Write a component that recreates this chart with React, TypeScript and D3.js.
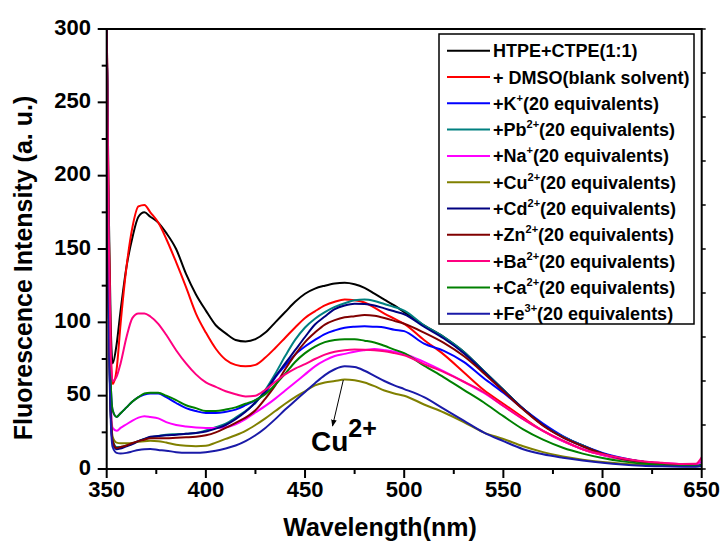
import React from 'react';
import * as d3 from 'd3';

const wavelengths = [350,351,352,353,355,357,360,363,366,369,372,376,380,385,390,395,400,405,410,415,420,425,430,435,440,445,450,455,460,465,470,475,480,485,490,495,500,510,520,530,540,550,560,570,580,590,600,610,620,630,640,647,650];

const htpeCtpe = [305,180,100,72,85,108, 138,158,172,175,172,168, 161,150,133,119,108, 98,92.5,88,87,88.5, 93,100,107,114,119.5, 123,125,126.5,127,126, 123.5,119.5,115.5,111.5,107, 98,90,80,67,54, 41,30,22,16,10.5, 7,5,3.7,2.8,2.3,2.5];
const dmso = [305,170,85,58,68,99, 138,165,179,180,175,168, 157,141,124,106,93, 82,74.5,71,70,71, 76,82.5,89.5,96.5,103, 107.5,111.5,114,115.5,115, 113.5,110,106,102.5,99, 88,78,66,54,44.5, 35,26,19,13.5,9.5, 6.5,4.5,3.3,2.6,2.3,3];
const kIon = [305,140,60,40,35.5,38, 42,46,49,50.7,51.5,51.5, 49,45,41.5,39.5,38.2, 38.2,39,40.5,43.5,47, 52,62.5,70.5,78,83.5, 88,92,94.5,96.3,97, 97.3,97,96.5,95,94, 85.5,80.5,73,62,52, 41,31,22.5,16,11, 7.5,5,3.5,2.6,2.3,2.5];
const pbIon = [305,120,40,20,15,15, 16,17.5,19,20.5,21.7,22.5, 23.4,23.7,24,24.5,26.3, 28.5,31,35,39.5,45, 54,65,77,88,96.5, 102.5,107,110.5,113,115, 115.5,114.5,112.5,110.5,108, 98,90,80,67,54, 41,30,22,16,10.5, 7,5,3.7,2.8,2.3,2.5];
const naIon = [305,130,50,28,26,28, 30.5,33,35,36,35.5,34.5, 32,30,29,28.3,28, 28,28.5,30.5,34,38.5, 43,48,53.5,59,64.5, 70,74,77,78.5,80, 81,81.8,81,80,78.5, 73,66.5,59.5,52,43, 34,26,19,13.5,9.5, 6.8,5,4,3.2,3,5];
const cuIon = [305,120,45,22,18,17.5, 17.5,17.7,18.5,19,19.2,19, 18,16.5,15.8,15.5,15.8, 18,20.5,23,26,30, 34.5,39.5,44.5,49,53, 57,59,60,61,60.5, 59,56.5,53.5,51.5,50, 44,38.5,32,25,20.5, 15.5,11.5,8.5,6.3,4.7, 3.6,2.9,2.4,2,1.8,2];
const cdIon = [305,120,40,18,13.5,14, 15.5,17,19,20.5,22,22.5, 23,23.4,24,24.5,25.5, 27.5,30,34,39,45.5, 53,63,72,81,90, 98.5,104,109,111.5,112.7, 112.5,111.5,109.5,107.5,105.5, 97,89,79,66.5,53.5, 41,30,21.5,15.5,10.5, 7,5,3.6,2.7,2.2,2];
const znIon = [305,120,40,19,14.3,15, 16,17.7,19,20,21,21, 21,21.3,21.6,22,23, 25,28,31.5,35,40, 48,57,68,78,86.5, 93,98.5,101.5,103.4,104.2, 105,104.5,103,101,99, 93,86,77,65.5,53, 40.5,29.5,21.5,15.5,10.5, 7,5,3.6,2.7,2.2,2];
const baIon = [305,160,80,60,63,72, 90,103,106,106,104,99, 91.5,81,72,64.5,59, 56,53,51,49.5,50, 54,59.5,64.5,68.5,71.5, 75,78,80,81,81.4, 81.3,81,80.3,79,77.5, 71.5,66,59.5,52.5,43, 34,26,19.5,13.5,10, 7.3,5.3,4.2,3.4,3.5,8];
const caIon = [305,140,60,40,35.5,38, 42,46,49,51.5,52,52, 50,47,43.5,41.5,39.5, 39.5,40.5,42,44.5,47, 51,57.5,65,73,79, 83.5,86.5,88,88.5,88.5, 87.5,86.3,84,81.4,79, 70.5,62.5,54,45.5,36, 27,20,14.5,10.5,7.5, 5.2,3.7,2.7,2,2,3];
const feIon = [305,110,35,15,11,10.5, 11,12,13,13.5,13.6,13, 12.5,11.5,11,11,11.5, 12.5,14,16,19,23, 28,34,40.5,46.5,52.5, 58.5,64,68,70,69.5, 67,63.5,60,57,54.5, 49,41,33,25,19, 13.5,10,7.7,5.8,4.2, 3,2.2,1.8,1.6,1.5,2];

const seriesValues = [htpeCtpe, dmso, kIon, pbIon, naIon, cuIon, cdIon, znIon, baIon, caIon, feIon];
const seriesColors = ['#000000','#FF0000','#0000FF','#008080','#FF00FF','#808000','#000080','#800000','#FF0080','#008000','#1A1AA8'];
// legend labels: [base, superscript, rest]
const legendLabels: [string, string, string][] = [
  ['HTPE+CTPE(1:1)', '', ''],
  ['+ DMSO(blank solvent)', '', ''],
  ['+K', '+', '(20 equivalents)'],
  ['+Pb', '2+', '(20 equivalents)'],
  ['+Na', '+', '(20 equivalents)'],
  ['+Cu', '2+', '(20 equivalents)'],
  ['+Cd', '2+', '(20 equivalents)'],
  ['+Zn', '2+', '(20 equivalents)'],
  ['+Ba', '2+', '(20 equivalents)'],
  ['+Ca', '2+', '(20 equivalents)'],
  ['+Fe', '3+', '(20 equivalents)'],
];
const drawOrder = [0,1,2,3,4,5,6,7,9,10,8];

const xMajor = [350,400,450,500,550,600,650];
const xMinor = [375,425,475,525,575,625];
const yMajor = [0,50,100,150,200,250,300];
const yMinor = [25,75,125,175,225,275];

const FONT = '"Liberation Sans", Arial, Helvetica, sans-serif';

export default function App() {
  const L = 106.7, R = 701.7, T = 29, B = 469;
  const x = d3.scaleLinear().domain([350, 650]).range([L, R]);
  const y = d3.scaleLinear().domain([0, 300]).range([B, T]);
  const line = d3.line<number>()
    .x((_, i) => x(wavelengths[i]))
    .y(d => y(d))
    .curve(d3.curveMonotoneX);

  const rightTicks = d3.range(0, 11).map(k => T + (k * (B - T)) / 10);

  const legX = 439, legY = 34, legW = 255, legH = 290;
  const rowH = 26.3;

  return (
    <svg width={727} height={550} style={{ position: 'absolute', left: 0, top: 0, background: '#fff' }}>
      <defs>
        <clipPath id="plotClip">
          <rect x={L} y={T} width={R - L} height={B - T} />
        </clipPath>
        <marker id="arrowHead" viewBox="0 0 10 10" refX="9" refY="5" markerWidth="7" markerHeight="7" orient="auto">
          <path d="M0,1 L10,5 L0,9 Z" fill="#000" />
        </marker>
      </defs>
      <rect x={0} y={0} width={727} height={550} fill="#fff" />

      <g clipPath="url(#plotClip)">
        {drawOrder.map(i => (
          <path key={i} d={line(seriesValues[i]) || ''} fill="none" stroke={seriesColors[i]} strokeWidth={2} strokeLinejoin="round" />
        ))}
      </g>

      {/* frame */}
      <rect x={L} y={T} width={R - L} height={B - T} fill="none" stroke="#000" strokeWidth={2} />

      {/* x ticks */}
      {xMajor.map(v => (
        <g key={'xm' + v}>
          <line x1={x(v)} x2={x(v)} y1={B} y2={B + 9} stroke="#000" strokeWidth={2} />
          <text x={x(v)} y={497} textAnchor="middle" fontFamily={FONT} fontWeight="bold" fontSize={22}>{v}</text>
        </g>
      ))}
      {xMinor.map(v => (
        <line key={'xn' + v} x1={x(v)} x2={x(v)} y1={B} y2={B + 5} stroke="#000" strokeWidth={2} />
      ))}
      {/* y ticks */}
      {yMajor.map(v => (
        <g key={'ym' + v}>
          <line x1={L - 9} x2={L} y1={y(v)} y2={y(v)} stroke="#000" strokeWidth={2} />
          <text x={91} y={y(v) + 5.5} textAnchor="end" fontFamily={FONT} fontWeight="bold" fontSize={22}>{v}</text>
        </g>
      ))}
      {yMinor.map(v => (
        <line key={'yn' + v} x1={L - 5} x2={L} y1={y(v)} y2={y(v)} stroke="#000" strokeWidth={2} />
      ))}
      {rightTicks.map((t, k) => (
        <line key={'rt' + k} x1={R} x2={R + 4} y1={t} y2={t} stroke="#000" strokeWidth={1.5} />
      ))}

      {/* axis titles */}
      <text x={380} y={536} textAnchor="middle" fontFamily={FONT} fontWeight="bold" fontSize={25}>Wavelength(nm)</text>
      <text transform={`translate(32,268) rotate(-90)`} textAnchor="middle" fontFamily={FONT} fontWeight="bold" fontSize={25}>Fluorescence Intensity (a. u.)</text>

      {/* legend */}
      <rect x={legX} y={legY} width={legW} height={legH} fill="#fff" stroke="#000" strokeWidth={1.5} />
      {legendLabels.map((lab, i) => {
        const cy = legY + 16.7 + i * rowH;
        return (
          <g key={'lg' + i}>
            <line x1={447} x2={490} y1={cy} y2={cy} stroke={seriesColors[i]} strokeWidth={2} />
            <text x={493} y={cy + 6.5} fontFamily={FONT} fontWeight="bold" fontSize={18}>
              <tspan>{lab[0]}</tspan>
              {lab[1] ? <tspan dy={-8} fontSize={11}>{lab[1]}</tspan> : null}
              {lab[2] ? <tspan dy={8} fontSize={18}>{lab[2]}</tspan> : null}
            </text>
          </g>
        );
      })}

      {/* Cu2+ annotation */}
      <line x1={343.3} y1={380} x2={332.5} y2={426} stroke="#000" strokeWidth={1} markerEnd="url(#arrowHead)" />
      <text x={311} y={451} fontFamily={FONT} fontWeight="bold" fontSize={28}>
        <tspan>Cu</tspan>
        <tspan dy={-14} fontSize={25}>2+</tspan>
      </text>
    </svg>
  );
}
